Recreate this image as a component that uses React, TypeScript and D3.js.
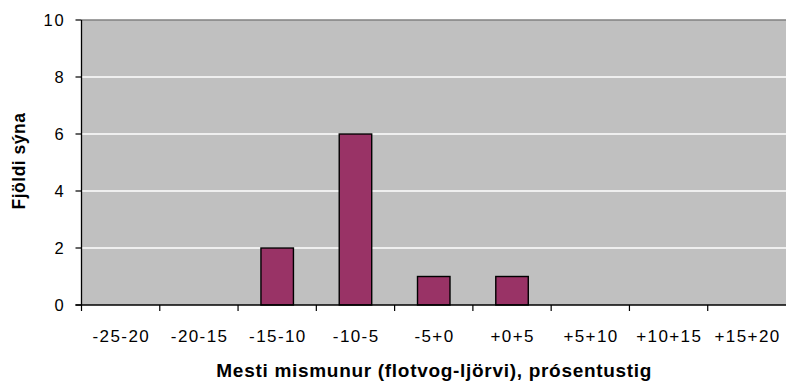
import React from "react";
import * as d3 from "d3";

const categories = ["-25-20", "-20-15", "-15-10", "-10-5", "-5+0", "+0+5", "+5+10", "+10+15", "+15+20"];
const counts = [0, 0, 2, 6, 1, 1, 0, 0, 0];
const yTicks = [0, 2, 4, 6, 8, 10];
const xTitle = "Mesti mismunur (flotvog-ljörvi), prósentustig";
const yTitle = "Fjöldi sýna";

const W = 787;
const H = 383;
const left = 81.5;
const right = 786;
const top = 20;
const bottom = 305;
const font = "'Liberation Sans', Arial, sans-serif";

export default function App() {
  const x = d3.scaleBand<string>().domain(categories).range([left, right]).padding(0);
  const y = d3.scaleLinear().domain([0, 10]).range([bottom, top]);
  const bw = x.bandwidth() * 0.415;
  return (
    <div style={{ position: "fixed", left: 0, top: 0 }}>
      <svg width={W} height={H} style={{ display: "block", background: "#fff" }}>
        <rect x={left} y={top} width={right - left} height={bottom - top} fill="#C0C0C0" />
        {yTicks.filter((t) => t > 0 && t < 10).map((t) => (
          <line key={t} x1={left} x2={right} y1={y(t)} y2={y(t)} stroke="#fff" strokeWidth={1.3} />
        ))}
        <line x1={left} x2={right} y1={y(10)} y2={y(10)} stroke="#808080" strokeWidth={1.5} />
        {categories.map((c, i) => {
          const v = counts[i];
          if (v <= 0) return null;
          const cx = (x(c) as number) + x.bandwidth() / 2;
          return (
            <rect key={c} x={cx - bw / 2} y={y(v)} width={bw} height={y(0) - y(v)}
              fill="#993366" stroke="#000" strokeWidth={1.4} />
          );
        })}
        <line x1={left} x2={left} y1={top} y2={bottom} stroke="#000" strokeWidth={1.3} />
        <line x1={left - 6} x2={right} y1={bottom} y2={bottom} stroke="#000" strokeWidth={1.3} />
        {yTicks.map((t) => (
          <g key={t}>
            <line x1={left - 6} x2={left} y1={y(t)} y2={y(t)} stroke="#000" strokeWidth={1.2} />
            <text x={65.5} y={y(t)} dy="0.36em" textAnchor="end" fontFamily={font} fontSize={16.5}
              letterSpacing={1.8} fill="#000">{t}</text>
          </g>
        ))}
        {categories.map((c, i) => (
          <line key={"t" + i} x1={x(c) as number} x2={x(c) as number} y1={bottom} y2={bottom + 6}
            stroke="#000" strokeWidth={1.2} />
        ))}
        {categories.map((c) => (
          <text key={"l" + c} x={(x(c) as number) + x.bandwidth() / 2 + 0.7} y={342} textAnchor="middle"
            fontFamily={font} fontSize={17} letterSpacing={1.4} fill="#000">{c}</text>
        ))}
        <text x={(left + right) / 2 + 0.5} y={377} textAnchor="middle" fontFamily={font} fontSize={19}
          fontWeight="bold" letterSpacing={0.7} fill="#000">{xTitle}</text>
        <text transform={`translate(25,161) rotate(-90)`} textAnchor="middle" fontFamily={font}
          fontSize={17.5} fontWeight="bold" letterSpacing={0.5} fill="#000">{yTitle}</text>
      </svg>
    </div>
  );
}
